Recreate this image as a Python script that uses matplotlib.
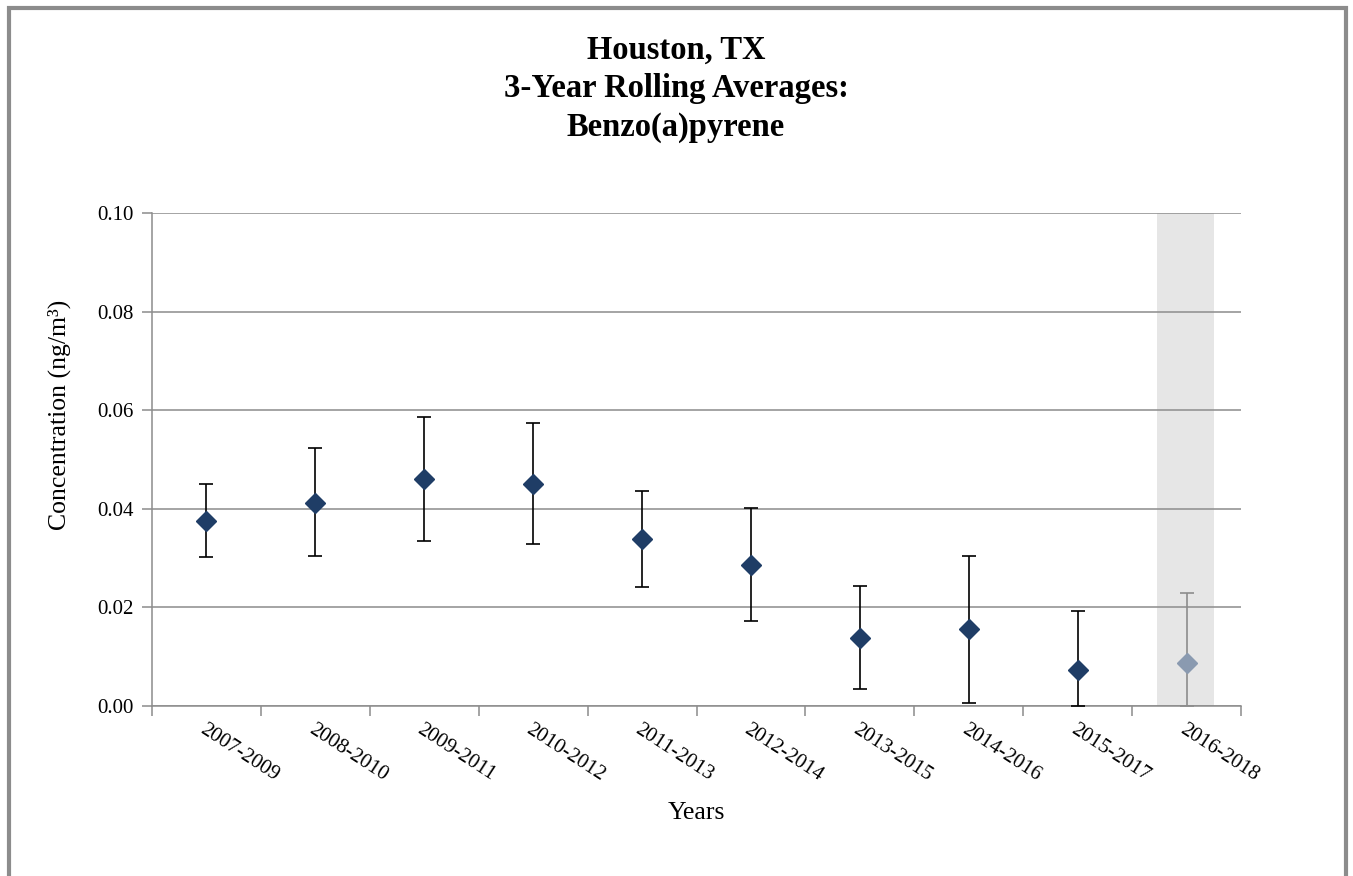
import numpy as np
import matplotlib
matplotlib.use("Agg")
import matplotlib.pyplot as plt
from matplotlib.patches import Rectangle

# 3-year rolling averages of benzo(a)pyrene, Houston TX
periods = ['2007-2009', '2008-2010', '2009-2011', '2010-2012', '2011-2013',
           '2012-2014', '2013-2015', '2014-2016', '2015-2017', '2016-2018']
averages = [0.0376, 0.0412, 0.0460, 0.0450, 0.0338, 0.0286, 0.0138, 0.0156, 0.0074, 0.0087]
upper = [0.0450, 0.0523, 0.0587, 0.0573, 0.0436, 0.0402, 0.0243, 0.0305, 0.0192, 0.0230]
lower = [0.0302, 0.0305, 0.0335, 0.0328, 0.0241, 0.0172, 0.0035, 0.0007, 0.0000, 0.0000]
y_ticks = [0.00, 0.02, 0.04, 0.06, 0.08, 0.10]

plt.rcParams['font.family'] = ['Liberation Serif', 'DejaVu Serif']

fig = plt.figure(figsize=(13.53, 8.76), dpi=100)
ax = fig.add_axes([0.1123, 0.194, 0.805, 0.563])

x = np.arange(len(periods))
avg = np.array(averages)
yerr = np.array([avg - np.array(lower), np.array(upper) - avg])

# shaded last period
ax.axvspan(x[-1] - 0.27, x[-1] + 0.25, color='#e6e6e6', zorder=0, lw=0)

navy = '#1f3d66'
ax.errorbar(x[:-1], avg[:-1], yerr=yerr[:, :-1], fmt='D', color=navy, ms=10,
            ecolor='black', elinewidth=1.2, capsize=5, capthick=1.2, zorder=3)
ax.errorbar(x[-1:], avg[-1:], yerr=yerr[:, -1:], fmt='D', color='#8a9ab0', ms=10,
            ecolor='#8c8c8c', elinewidth=1.2, capsize=5, capthick=1.2, zorder=3)

ax.set_xlim(-0.5, len(periods) - 0.5)
ax.set_ylim(0, 0.10)
ax.set_yticks(y_ticks)
ax.set_yticklabels([f'{v:.2f}' for v in y_ticks], fontsize=15)
ax.yaxis.grid(True, color='#8c8c8c', lw=1.1)
ax.set_axisbelow(True)

# ticks on category boundaries, labels at centres
ax.set_xticks(np.arange(-0.5, len(periods)), minor=False)
ax.set_xticklabels([])
ax.set_xticks(x, minor=True)
ax.set_xticklabels(periods, minor=True, rotation=-33, ha='left', va='top',
                   rotation_mode='anchor', fontsize=15)
ax.tick_params(axis='x', which='minor', length=0, pad=10)
ax.tick_params(axis='x', which='major', length=7, color='#8c8c8c', width=1.1)
ax.tick_params(axis='y', length=7, color='#8c8c8c', width=1.1, pad=6)

for side in ['top', 'right']:
    ax.spines[side].set_visible(False)
for side in ['left', 'bottom']:
    ax.spines[side].set_color('#8c8c8c')
    ax.spines[side].set_linewidth(1.1)

ax.set_ylabel('Concentration (ng/m³)', fontsize=18.5)
ax.yaxis.set_label_coords(-0.0745, 0.59)
ax.set_xlabel('Years', fontsize=18.5, labelpad=12)

fig.text(0.4996, 0.899, 'Houston, TX\n3-Year Rolling Averages:\nBenzo(a)pyrene',
         ha='center', va='center', fontsize=23.5, fontweight='bold', linespacing=1.31)

# outer frame
fig.patches.append(Rectangle((0.0065, -0.02), 0.9885, 1.011, transform=fig.transFigure,
                             fill=False, edgecolor='#8c8c8c', lw=3))

fig.savefig('out.png', dpi=100)
